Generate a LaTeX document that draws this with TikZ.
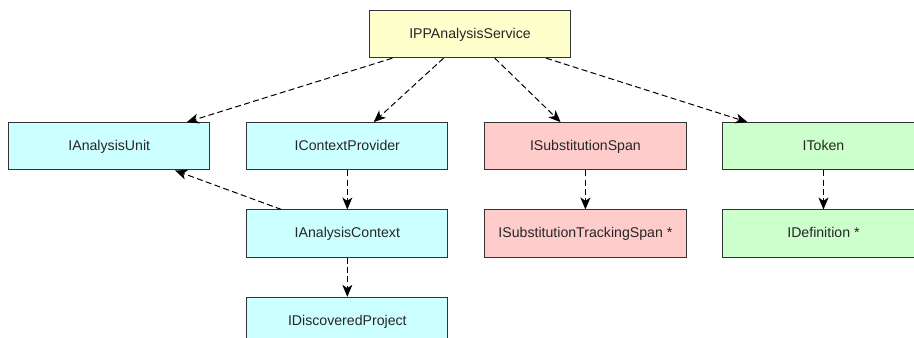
\documentclass[tikz,border=0pt]{standalone}
\usepackage{fontspec}
\setmainfont{Liberation Sans}
\usepackage{xcolor}
\usepackage{tikz}
\usetikzlibrary{arrows.meta, positioning}
\definecolor{servfill}{HTML}{FFFFCC}
\definecolor{ctxfill}{HTML}{CCFFFF}
\definecolor{substfill}{HTML}{FFCCCC}
\definecolor{tokfill}{HTML}{CCFFCC}
\tikzstyle{iface} = [rectangle, minimum width=151pt, minimum height=35.5pt, text height=7.6pt, text depth=1.2pt, text centered, draw=black!80, line width=0.75pt, text=black!85, font=\fontsize{10.6}{12}\selectfont]
\tikzstyle{dep} = [line width=0.75pt, dash pattern=on 4.5pt off 2.5pt, -{Stealth[length=9pt, width=7.5pt, inset=2.5pt]}]

\begin{document}
\begin{tikzpicture}[node distance=29.25pt and 26.8pt]
    % Frame
    \useasboundingbox (-352.5pt,-228pt) rectangle (333pt,25.5pt);
    \clip (-352.5pt,-228pt) rectangle (333pt,25.5pt);

    % Root
    \node (serv) [iface, fill=servfill] {IPPAnalysisService};

    % Level 1
    \node (ctxprov) [iface, fill=ctxfill, below=48pt of serv, xshift=-92pt] {IContextProvider};
    \node (unit) [iface, fill=ctxfill, left=of ctxprov] {IAnalysisUnit};
    \node (subst) [iface, fill=substfill, right=of ctxprov] {ISubstitutionSpan};
    \node (token) [iface, fill=tokfill, right=of subst] {IToken};

    % Level 2
    \node (actx) [iface, fill=ctxfill, below=of ctxprov] {IAnalysisContext};
    \node (track) [iface, fill=substfill, below=of subst] {ISubstitutionTrackingSpan *};
    \node (defn) [iface, fill=tokfill, below=of token] {IDefinition *};

    % Level 3
    \node (proj) [iface, fill=ctxfill, below=of actx] {IDiscoveredProject};

    % Arrows
    \draw [dep] (serv) -- (unit);
    \draw [dep] (serv) -- (ctxprov);
    \draw [dep] (serv) -- (subst);
    \draw [dep] (serv) -- (token);
    \draw [dep] (ctxprov) -- (actx);
    \draw [dep] (actx) -- (unit);
    \draw [dep] (actx) -- (proj);
    \draw [dep] (subst) -- (track);
    \draw [dep] (token) -- (defn);
\end{tikzpicture}
\end{document}
